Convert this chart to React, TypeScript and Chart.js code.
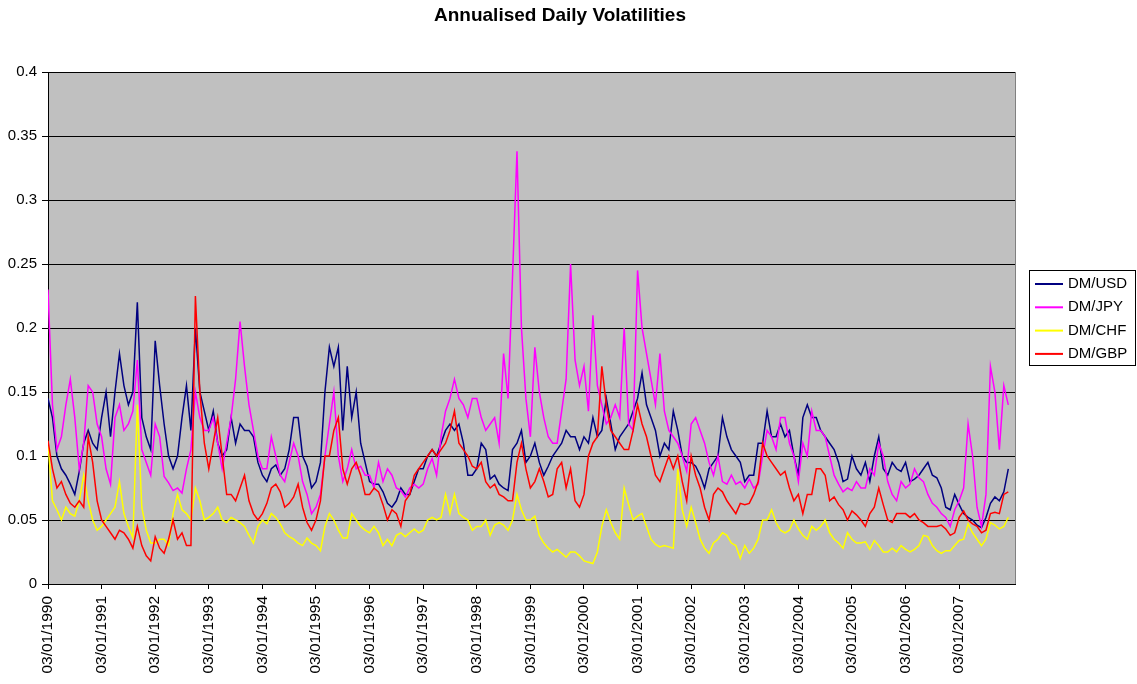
import React, { useEffect, useRef } from "react";
import { Chart, registerables } from "chart.js";

Chart.register(...registerables);

const chartTitle = "Annualised Daily Volatilities";

const tickLabels = [
  "03/01/1990", "03/01/1991", "03/01/1992", "03/01/1993", "03/01/1994", "03/01/1995",
  "03/01/1996", "03/01/1997", "03/01/1998", "03/01/1999", "03/01/2000", "03/01/2001",
  "03/01/2002", "03/01/2003", "03/01/2004", "03/01/2005", "03/01/2006", "03/01/2007",
];

const seriesNames = ["DM/USD", "DM/JPY", "DM/CHF", "DM/GBP"];
const seriesColors = ["#000080", "#FF00FF", "#FFFF00", "#FF0000"];

// monthly readings, Jan 1990 .. Dec 2007
const usd = [
  0.145, 0.13, 0.1, 0.09, 0.085, 0.078, 0.07, 0.088, 0.11, 0.12, 0.11, 0.105,
  0.13, 0.15, 0.115, 0.15, 0.18, 0.155, 0.14, 0.15, 0.22, 0.13, 0.115, 0.105,
  0.19, 0.155, 0.125, 0.1, 0.09, 0.1, 0.13, 0.155, 0.12, 0.2, 0.15, 0.135,
  0.12, 0.135, 0.11, 0.1, 0.105, 0.13, 0.11, 0.125, 0.12, 0.12, 0.115, 0.095,
  0.085, 0.08, 0.09, 0.093, 0.085, 0.09, 0.105, 0.13, 0.13, 0.1, 0.092, 0.075,
  0.08, 0.095, 0.15, 0.185, 0.17, 0.185, 0.12, 0.17, 0.13, 0.15, 0.11, 0.095,
  0.08, 0.078, 0.078, 0.072, 0.063, 0.06, 0.065, 0.075, 0.07, 0.07, 0.08, 0.09,
  0.09, 0.1, 0.105, 0.1, 0.11, 0.12, 0.125, 0.12, 0.125, 0.11, 0.085, 0.085,
  0.09, 0.11, 0.105, 0.082, 0.085, 0.078, 0.075, 0.073, 0.105, 0.11, 0.12, 0.095,
  0.1, 0.11, 0.095, 0.085, 0.092, 0.1, 0.105, 0.11, 0.12, 0.115, 0.115, 0.105,
  0.115, 0.11, 0.13, 0.115, 0.12, 0.145, 0.125, 0.105, 0.115, 0.12, 0.125, 0.135,
  0.145, 0.165, 0.14, 0.13, 0.12, 0.1, 0.11, 0.105, 0.135, 0.12, 0.1, 0.095,
  0.095, 0.092, 0.085, 0.075, 0.09, 0.095, 0.1, 0.13, 0.115, 0.105, 0.1, 0.095,
  0.08, 0.085, 0.085, 0.11, 0.11, 0.135, 0.115, 0.115, 0.125, 0.115, 0.12, 0.1,
  0.085, 0.13, 0.14, 0.13, 0.13, 0.12, 0.115, 0.11, 0.105, 0.095, 0.08, 0.082,
  0.1, 0.09, 0.085, 0.095, 0.08, 0.1, 0.115, 0.09, 0.085, 0.095, 0.09, 0.088,
  0.095, 0.08, 0.082, 0.085, 0.09, 0.095, 0.085, 0.083, 0.075, 0.06, 0.058, 0.07,
  0.062, 0.055, 0.052, 0.05, 0.046, 0.044, 0.052, 0.063, 0.068, 0.065, 0.072, 0.09,
];

const jpy = [
  0.23, 0.14, 0.105, 0.115, 0.14, 0.16, 0.13, 0.09, 0.11, 0.155, 0.15, 0.125,
  0.115, 0.09, 0.078, 0.13, 0.14, 0.12, 0.125, 0.135, 0.175, 0.105, 0.095, 0.085,
  0.125, 0.115, 0.084, 0.079, 0.073, 0.075, 0.071, 0.09, 0.105, 0.15, 0.13, 0.12,
  0.12, 0.13, 0.11, 0.09, 0.11, 0.13, 0.16, 0.205, 0.17, 0.14, 0.12, 0.1,
  0.09, 0.09, 0.115, 0.1, 0.085, 0.08, 0.095, 0.11, 0.1, 0.08, 0.07, 0.055,
  0.06, 0.07, 0.1, 0.125, 0.15, 0.1, 0.08, 0.09, 0.105, 0.09, 0.092, 0.085,
  0.085, 0.075, 0.095, 0.08, 0.09, 0.085, 0.075, 0.073, 0.068, 0.075, 0.078, 0.075,
  0.078, 0.09, 0.098, 0.085, 0.115, 0.135, 0.145, 0.16, 0.145, 0.14, 0.13, 0.145,
  0.145, 0.13, 0.12, 0.125, 0.13, 0.11, 0.18, 0.145, 0.24, 0.338, 0.2, 0.145,
  0.115, 0.185, 0.15, 0.13, 0.115, 0.11, 0.11, 0.135, 0.16, 0.25, 0.175, 0.155,
  0.17, 0.135, 0.21, 0.155, 0.14, 0.125, 0.13, 0.14, 0.13, 0.2, 0.125, 0.12,
  0.245, 0.2, 0.18, 0.16, 0.14, 0.18, 0.135, 0.12, 0.115, 0.11, 0.1, 0.088,
  0.125, 0.13, 0.12, 0.11, 0.095, 0.085, 0.1, 0.08, 0.078, 0.085, 0.078, 0.08,
  0.075, 0.082, 0.075, 0.078, 0.1, 0.12, 0.115, 0.105, 0.13, 0.13, 0.11, 0.1,
  0.08, 0.11, 0.1, 0.135, 0.12, 0.12, 0.115, 0.1, 0.085, 0.078, 0.072, 0.075,
  0.073, 0.08, 0.075, 0.075, 0.09, 0.085, 0.11, 0.1, 0.08, 0.07, 0.065, 0.08,
  0.075, 0.078, 0.09, 0.083, 0.08, 0.07, 0.063, 0.06, 0.055, 0.052, 0.045, 0.058,
  0.065, 0.075, 0.125, 0.1, 0.06, 0.045, 0.07, 0.17, 0.15, 0.105, 0.155, 0.14,
];

const chf = [
  0.11, 0.065, 0.058, 0.05, 0.06, 0.055, 0.053, 0.065, 0.085, 0.065, 0.05, 0.042,
  0.045, 0.05, 0.055, 0.06, 0.08, 0.055, 0.045, 0.036, 0.14, 0.06, 0.042, 0.032,
  0.032, 0.035, 0.035, 0.03, 0.055, 0.07, 0.058, 0.055, 0.05, 0.075, 0.065, 0.05,
  0.052, 0.055, 0.06, 0.05, 0.048, 0.052, 0.05, 0.048, 0.045, 0.038, 0.032, 0.045,
  0.05, 0.047, 0.055, 0.052, 0.047, 0.04, 0.037, 0.035, 0.032, 0.03, 0.036, 0.032,
  0.03, 0.026, 0.045, 0.055, 0.05, 0.042, 0.036, 0.036, 0.055, 0.05, 0.045, 0.042,
  0.04, 0.045, 0.04, 0.03, 0.035, 0.03, 0.038, 0.04, 0.037, 0.04, 0.043, 0.04,
  0.042, 0.05, 0.052, 0.05, 0.052, 0.07, 0.055, 0.07, 0.055, 0.052, 0.05, 0.042,
  0.045, 0.045, 0.05, 0.038, 0.046, 0.048, 0.046, 0.042, 0.05, 0.07, 0.058, 0.05,
  0.05, 0.053, 0.038, 0.032, 0.028, 0.025, 0.027, 0.024, 0.021, 0.025, 0.025, 0.022,
  0.018, 0.017, 0.016, 0.025, 0.045, 0.058, 0.048, 0.04, 0.035, 0.075, 0.062, 0.05,
  0.053, 0.055, 0.045, 0.035, 0.031, 0.029, 0.03, 0.029, 0.028, 0.09, 0.058, 0.045,
  0.06, 0.048, 0.035, 0.028, 0.024, 0.032, 0.035, 0.04, 0.038, 0.032, 0.03, 0.02,
  0.03, 0.024, 0.028, 0.035, 0.05, 0.05, 0.058, 0.048, 0.042, 0.04, 0.042, 0.05,
  0.043, 0.038, 0.035, 0.045, 0.042, 0.045, 0.05, 0.04, 0.035, 0.032, 0.028, 0.04,
  0.035, 0.032, 0.032, 0.033, 0.027, 0.034, 0.03, 0.025, 0.025, 0.028, 0.025, 0.03,
  0.027, 0.025, 0.027, 0.03, 0.038, 0.037, 0.03, 0.026, 0.024, 0.026, 0.026, 0.03,
  0.034, 0.035, 0.047, 0.04, 0.035, 0.03, 0.035, 0.048, 0.046, 0.043, 0.045, 0.052,
];

const gbp = [
  0.112, 0.09, 0.075, 0.08, 0.07, 0.063, 0.06, 0.065, 0.06, 0.115, 0.095, 0.065,
  0.05, 0.045, 0.04, 0.035, 0.042, 0.04, 0.035, 0.028, 0.045, 0.03, 0.022, 0.018,
  0.037, 0.028, 0.024, 0.035, 0.05, 0.035, 0.04, 0.03, 0.03, 0.225, 0.15, 0.11,
  0.09, 0.11, 0.13, 0.1, 0.07, 0.07, 0.065, 0.075, 0.085, 0.065, 0.055, 0.05,
  0.055, 0.063, 0.075, 0.078, 0.072, 0.06, 0.063, 0.068, 0.078, 0.06, 0.048, 0.042,
  0.05, 0.065, 0.1, 0.1, 0.12, 0.13, 0.09, 0.078, 0.09, 0.095, 0.085, 0.07,
  0.07, 0.075, 0.072, 0.062, 0.05, 0.058, 0.055, 0.045, 0.065, 0.07, 0.085, 0.09,
  0.095, 0.1, 0.105, 0.1, 0.105, 0.11, 0.12, 0.135, 0.11, 0.105, 0.1, 0.092,
  0.09, 0.095, 0.08, 0.075, 0.078, 0.07, 0.068, 0.065, 0.065, 0.095, 0.11, 0.09,
  0.075, 0.08, 0.09, 0.08, 0.068, 0.07, 0.09, 0.095, 0.075, 0.09, 0.065, 0.06,
  0.07, 0.1, 0.11, 0.115, 0.17, 0.14, 0.12, 0.115, 0.11, 0.105, 0.105, 0.12,
  0.14, 0.125, 0.115, 0.1, 0.085, 0.08, 0.09, 0.1, 0.09, 0.1, 0.08, 0.065,
  0.1, 0.085, 0.075, 0.06, 0.05, 0.07, 0.075, 0.072, 0.065, 0.06, 0.055, 0.063,
  0.062, 0.063, 0.07, 0.08, 0.11, 0.1, 0.095, 0.09, 0.085, 0.088, 0.075, 0.065,
  0.07, 0.055, 0.07, 0.07, 0.09, 0.09, 0.085, 0.065, 0.068, 0.062, 0.058, 0.05,
  0.057, 0.054, 0.05, 0.045, 0.055, 0.06, 0.075, 0.062, 0.05, 0.048, 0.055, 0.055,
  0.055, 0.052, 0.055, 0.05, 0.048, 0.045, 0.045, 0.045, 0.046, 0.043, 0.038, 0.04,
  0.052, 0.057, 0.05, 0.047, 0.045, 0.04, 0.042, 0.055, 0.056, 0.055, 0.07, 0.072,
];

const seriesValues = [usd, jpy, chf, gbp];

const FONT = "'Liberation Sans', Arial, Helvetica, sans-serif";

const plotBackground = {
  id: "plotBackground",
  beforeDraw(chart: any) {
    const { ctx, chartArea: a } = chart;
    ctx.save();
    ctx.fillStyle = "#C0C0C0";
    ctx.fillRect(a.left, a.top, a.right - a.left, a.bottom - a.top);
    ctx.restore();
  },
  beforeDatasetsDraw(chart: any) {
    const { ctx, chartArea: a } = chart;
    ctx.save();
    ctx.strokeStyle = "#808080";
    ctx.lineWidth = 1;
    ctx.beginPath();
    ctx.moveTo(Math.round(a.right) + 0.5, a.top);
    ctx.lineTo(Math.round(a.right) + 0.5, a.bottom);
    ctx.stroke();
    ctx.restore();
  },
};

const titleText = {
  id: "titleText",
  afterDraw(chart: any) {
    const { ctx } = chart;
    ctx.save();
    ctx.font = `bold 19px ${FONT}`;
    ctx.fillStyle = "#000";
    ctx.textAlign = "center";
    ctx.textBaseline = "middle";
    ctx.fillText(chartTitle, 560, 16);
    ctx.restore();
  },
};

const boxLegend = {
  id: "boxLegend",
  afterDraw(chart: any) {
    const { ctx } = chart;
    const x = 1029.5;
    const y = 270.5;
    const w = 106;
    const h = 95;
    ctx.save();
    ctx.fillStyle = "#FFFFFF";
    ctx.fillRect(x, y, w, h);
    ctx.strokeStyle = "#000";
    ctx.lineWidth = 1;
    ctx.strokeRect(x, y, w, h);
    ctx.font = `15px ${FONT}`;
    ctx.textBaseline = "middle";
    ctx.textAlign = "left";
    chart.data.datasets.forEach((ds: any, i: number) => {
      const cy = 284 + i * 23.3;
      ctx.strokeStyle = ds.borderColor;
      ctx.lineWidth = 2;
      ctx.beginPath();
      ctx.moveTo(1035, cy);
      ctx.lineTo(1063, cy);
      ctx.stroke();
      ctx.fillStyle = "#000";
      ctx.fillText(ds.label, 1068, cy);
    });
    ctx.restore();
  },
};

export default function App() {
  const canvasRef = useRef<HTMLCanvasElement | null>(null);

  useEffect(() => {
    const canvas = canvasRef.current;
    if (!canvas) return;
    const datasets = seriesNames.map((name, s) => ({
      label: name,
      data: seriesValues[s].map((v, i) => ({ x: i, y: v })),
      borderColor: seriesColors[s],
      backgroundColor: seriesColors[s],
      borderWidth: 1.5,
      pointRadius: 0,
      tension: 0,
      fill: false,
      order: seriesNames.length - s,
    }));

    const chart = new Chart(canvas, {
      type: "line",
      data: { datasets },
      options: {
        responsive: false,
        animation: false,
        devicePixelRatio: 1,
        layout: { padding: { top: 72, right: 122, left: 0, bottom: 0 } },
        plugins: {
          legend: { display: false },
          title: { display: false },
          tooltip: { enabled: false },
        },
        scales: {
          x: {
            type: "linear",
            min: 0,
            max: 216.5,
            afterBuildTicks: (scale: any) => {
              scale.ticks = tickLabels.map((_, i) => ({ value: i * 12 }));
            },
            afterFit: (scale: any) => {
              scale.height = 100;
            },
            ticks: {
              autoSkip: false,
              maxRotation: 90,
              minRotation: 90,
              padding: 7,
              color: "#000",
              font: { family: FONT, size: 15.5 },
              callback: (_v: any, i: number) => tickLabels[i],
            },
            grid: {
              drawOnChartArea: false,
              drawTicks: true,
              tickLength: 5,
              color: "#000",
            },
            border: { color: "#000", width: 1 },
          },
          y: {
            min: 0,
            max: 0.4,
            afterFit: (scale: any) => {
              scale.width = 48;
            },
            ticks: {
              stepSize: 0.05,
              padding: 5,
              color: "#000",
              font: { family: FONT, size: 15 },
              callback: (v: any) => String(Number(Number(v).toFixed(2))),
            },
            grid: {
              color: "#000",
              lineWidth: 1,
              tickLength: 6,
            },
            border: { color: "#000", width: 1 },
          },
        },
      },
      plugins: [plotBackground, titleText, boxLegend],
    });

    return () => chart.destroy();
  }, []);

  return (
    <div style={{ position: "absolute", left: 0, top: 0, width: 1137, height: 684, background: "#fff" }}>
      <canvas ref={canvasRef} width={1137} height={684} style={{ display: "block" }} />
    </div>
  );
}
